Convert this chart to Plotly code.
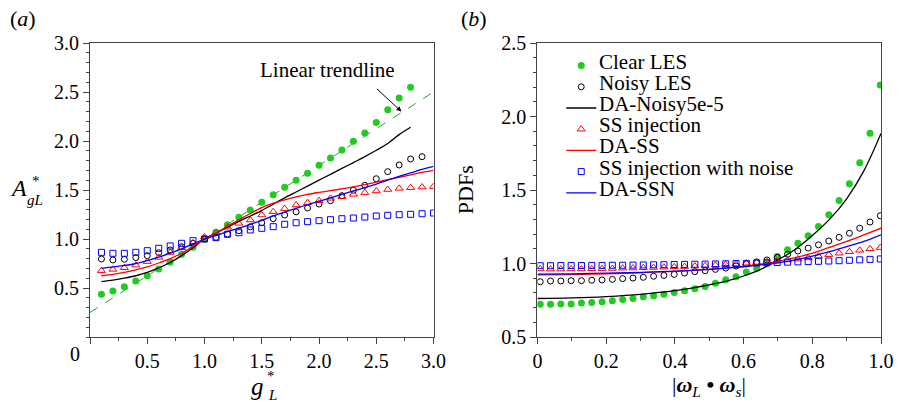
import plotly.graph_objects as go

FONT = "Times New Roman, Liberation Serif, DejaVu Serif, serif"
GREEN = "rgb(30,205,30)"
TREND = "rgb(40,160,40)"
RED = "rgb(255,0,0)"
BLUE = "rgb(0,0,255)"
AXC = "#444444"

# ---------------- panel (a) data ----------------
g_star = [0.1, 0.2, 0.3, 0.4, 0.5, 0.6, 0.7, 0.8, 0.9, 1.0,
          1.1, 1.2, 1.3, 1.4, 1.5, 1.6, 1.7, 1.8, 1.9, 2.0,
          2.1, 2.2, 2.3, 2.4, 2.5, 2.6, 2.7, 2.8, 2.9, 3.0]
a_clear_les = [0.436, 0.469, 0.513, 0.571, 0.626, 0.694, 0.765, 0.844, 0.915, 1.0,
               1.068, 1.146, 1.221, 1.296, 1.374, 1.452, 1.527, 1.599, 1.67, 1.752,
               1.827, 1.908, 1.997, 2.082, 2.19, 2.32, 2.44, 2.548]
a_noisy_les = [0.796, 0.786, 0.793, 0.81, 0.83, 0.86, 0.888, 0.921, 0.956, 1.0,
               1.017, 1.05, 1.085, 1.125, 1.166, 1.207, 1.245, 1.277, 1.316, 1.357,
               1.391, 1.442, 1.497, 1.548, 1.615, 1.687, 1.755, 1.816, 1.84]
a_da_noisy = [0.565, 0.58, 0.60, 0.625, 0.66, 0.705, 0.76, 0.83, 0.91, 1.0,
              1.06, 1.12, 1.18, 1.235, 1.29, 1.355, 1.42, 1.48, 1.54, 1.60,
              1.66, 1.72, 1.78, 1.84, 1.905, 1.975, 2.065, 2.14]
a_ss_inj = [0.677, 0.69, 0.707, 0.733, 0.769, 0.812, 0.862, 0.91, 0.96, 1.02,
            1.065, 1.12, 1.16, 1.194, 1.245, 1.279, 1.31, 1.347, 1.37, 1.391,
            1.415, 1.432, 1.456, 1.473, 1.49, 1.505, 1.517, 1.524, 1.53, 1.535]
a_da_ss = [0.625, 0.64, 0.66, 0.685, 0.715, 0.755, 0.80, 0.855, 0.925, 1.0,
           1.06, 1.13, 1.195, 1.26, 1.32, 1.365, 1.40, 1.43, 1.455, 1.475,
           1.493, 1.512, 1.532, 1.555, 1.58, 1.605, 1.63, 1.655, 1.68, 1.70]
a_ss_noise = [0.864, 0.854, 0.854, 0.864, 0.881, 0.905, 0.929, 0.956, 0.983, 1.0,
              1.014, 1.048, 1.064, 1.092, 1.109, 1.126, 1.15, 1.166, 1.177, 1.187,
              1.197, 1.207, 1.214, 1.224, 1.235, 1.242, 1.248, 1.252, 1.258, 1.265]
a_da_ssn = [0.70, 0.715, 0.73, 0.75, 0.78, 0.815, 0.855, 0.90, 0.95, 1.0,
            1.035, 1.075, 1.11, 1.15, 1.19, 1.235, 1.275, 1.313, 1.35, 1.385,
            1.42, 1.455, 1.49, 1.525, 1.56, 1.60, 1.64, 1.675, 1.71, 1.74]
trend_x = [0.0, 3.0]
trend_y = [0.25, 2.5]

# ---------------- panel (b) data ----------------
w_dot = [0.008, 0.038, 0.068, 0.098, 0.128, 0.158, 0.188, 0.218, 0.248, 0.278,
         0.308, 0.338, 0.368, 0.398, 0.428, 0.458, 0.488, 0.518, 0.548, 0.578,
         0.608, 0.638, 0.668, 0.698, 0.728, 0.758, 0.788, 0.818, 0.848, 0.878,
         0.908, 0.938, 0.968, 0.998]
b_clear_les = [0.723, 0.723, 0.724, 0.725, 0.732, 0.734, 0.739, 0.746, 0.755, 0.762,
               0.773, 0.780, 0.790, 0.803, 0.815, 0.828, 0.844, 0.865, 0.890, 0.910,
               0.942, 0.967, 1.002, 1.047, 1.093, 1.138, 1.188, 1.252, 1.332, 1.428,
               1.542, 1.685, 1.886, 2.214]
b_noisy_les = [0.876, 0.881, 0.881, 0.883, 0.883, 0.886, 0.888, 0.892, 0.897, 0.901,
               0.906, 0.913, 0.919, 0.926, 0.935, 0.944, 0.951, 0.960, 0.969, 0.983,
               0.997, 1.011, 1.024, 1.042, 1.063, 1.085, 1.105, 1.127, 1.153, 1.178,
               1.206, 1.240, 1.282, 1.325]
b_ss_inj = [0.963, 0.962, 0.962, 0.963, 0.963, 0.964, 0.965, 0.966, 0.968, 0.969,
            0.971, 0.973, 0.975, 0.977, 0.979, 0.982, 0.985, 0.989, 0.993, 0.997,
            1.002, 1.007, 1.012, 1.018, 1.024, 1.030, 1.038, 1.050, 1.060, 1.070,
            1.080, 1.090, 1.100, 1.108]
b_ss_noise = [0.985, 0.985, 0.986, 0.986, 0.986, 0.987, 0.987, 0.988, 0.988, 0.989,
              0.990, 0.991, 0.992, 0.993, 0.994, 0.995, 0.996, 0.997, 0.998, 1.000,
              1.001, 1.003, 1.005, 1.007, 1.009, 1.011, 1.013, 1.015, 1.017, 1.019,
              1.022, 1.025, 1.028, 1.031]
w_line = [0.0, 0.1, 0.2, 0.3, 0.4, 0.5, 0.55, 0.6, 0.65, 0.7, 0.75, 0.8, 0.85, 0.9, 0.95, 1.0]
b_da_noisy = [0.762, 0.766, 0.775, 0.79, 0.815, 0.855, 0.88, 0.915, 0.96, 1.025,
              1.095, 1.19, 1.30, 1.44, 1.63, 1.885]
b_da_ss = [0.922, 0.925, 0.93, 0.937, 0.946, 0.96, 0.97, 0.98, 0.995, 1.015,
           1.04, 1.07, 1.11, 1.15, 1.195, 1.24]
b_da_ssn = [0.928, 0.93, 0.935, 0.94, 0.948, 0.96, 0.968, 0.978, 0.99, 1.005,
            1.025, 1.05, 1.08, 1.115, 1.15, 1.195]

legend_names = ["Clear LES", "Noisy LES", "DA-Noisy5e-5", "SS injection",
                "DA-SS", "SS injection with noise", "DA-SSN"]

fig = go.Figure()

# panel (a)
fig.add_trace(go.Scatter(x=trend_x, y=trend_y, mode="lines", showlegend=False,
                         line=dict(color=TREND, width=1, dash="dash"), xaxis="x", yaxis="y"))
fig.add_trace(go.Scatter(x=g_star, y=a_clear_les, mode="markers", showlegend=False,
                         marker=dict(symbol="circle", size=7, color=GREEN), xaxis="x", yaxis="y"))
fig.add_trace(go.Scatter(x=g_star, y=a_noisy_les, mode="markers", showlegend=False,
                         marker=dict(symbol="circle-open", size=6, color="black", line=dict(width=1)),
                         xaxis="x", yaxis="y"))
fig.add_trace(go.Scatter(x=g_star, y=a_ss_inj, mode="markers", showlegend=False,
                         marker=dict(symbol="triangle-up-open", size=7, color=RED, line=dict(width=1)),
                         xaxis="x", yaxis="y"))
fig.add_trace(go.Scatter(x=g_star, y=a_ss_noise, mode="markers", showlegend=False,
                         marker=dict(symbol="square-open", size=6, color=BLUE, line=dict(width=1)),
                         xaxis="x", yaxis="y"))
fig.add_trace(go.Scatter(x=g_star, y=a_da_noisy, mode="lines", showlegend=False,
                         line=dict(color="black", width=1.3, shape="spline", smoothing=0.8),
                         xaxis="x", yaxis="y"))
fig.add_trace(go.Scatter(x=g_star, y=a_da_ss, mode="lines", showlegend=False,
                         line=dict(color=RED, width=1.3, shape="spline", smoothing=0.8),
                         xaxis="x", yaxis="y"))
fig.add_trace(go.Scatter(x=g_star, y=a_da_ssn, mode="lines", showlegend=False,
                         line=dict(color=BLUE, width=1.3, shape="spline", smoothing=0.8),
                         xaxis="x", yaxis="y"))

# panel (b) -- legend symbols come from these traces; legend texts are annotations
fig.add_trace(go.Scatter(x=w_dot, y=b_clear_les, mode="markers", name="",
                         marker=dict(symbol="circle", size=7, color=GREEN), xaxis="x2", yaxis="y2",
                         showlegend=True))
fig.add_trace(go.Scatter(x=w_dot, y=b_noisy_les, mode="markers", name="",
                         marker=dict(symbol="circle-open", size=6, color="black", line=dict(width=1)),
                         xaxis="x2", yaxis="y2", showlegend=True))
fig.add_trace(go.Scatter(x=w_line, y=b_da_noisy, mode="lines", name="",
                         line=dict(color="black", width=1.3, shape="spline"), xaxis="x2", yaxis="y2",
                         showlegend=True))
fig.add_trace(go.Scatter(x=w_dot, y=b_ss_inj, mode="markers", name="",
                         marker=dict(symbol="triangle-up-open", size=7, color=RED, line=dict(width=1)),
                         xaxis="x2", yaxis="y2", showlegend=True))
fig.add_trace(go.Scatter(x=w_line, y=b_da_ss, mode="lines", name="",
                         line=dict(color=RED, width=1.3, shape="spline"), xaxis="x2", yaxis="y2",
                         showlegend=True))
fig.add_trace(go.Scatter(x=w_dot, y=b_ss_noise, mode="markers", name="",
                         marker=dict(symbol="square-open", size=6, color=BLUE, line=dict(width=1)),
                         xaxis="x2", yaxis="y2", showlegend=True))
fig.add_trace(go.Scatter(x=w_line, y=b_da_ssn, mode="lines", name="",
                         line=dict(color=BLUE, width=1.3, shape="spline"), xaxis="x2", yaxis="y2",
                         showlegend=True))

W, H = 906, 406
L, R, T, B = 90, 17, 43, 69
pw = W - L - R
ph = H - T - B


def px2paper_x(px):
    return (px - L) / pw


def px2paper_y(py):
    return (H - B - py) / ph


common = dict(showline=True, linecolor=AXC, linewidth=1.2, mirror=True, ticks="outside",
              ticklen=6, tickwidth=1, tickcolor=AXC, showgrid=False, zeroline=False,
              tickfont=dict(family=FONT, size=20, color="black"))

LEG_FS = 14
fig.update_layout(
    width=W, height=H, margin=dict(l=L, r=R, t=T, b=B),
    paper_bgcolor="white", plot_bgcolor="white",
    font=dict(family=FONT, color="black"),
    xaxis=dict(domain=[0, px2paper_x(437)], range=[0, 3.0],
               tickvals=[0, 0.5, 1.0, 1.5, 2.0, 2.5, 3.0],
               ticktext=["", "0.5", "1.0", "1.5", "2.0", "2.5", "3.0"],
               minor=dict(ticks="outside", ticklen=3, dtick=0.25, tick0=0, tickcolor=AXC),
               anchor="y", **common),
    yaxis=dict(domain=[0, 1], range=[0, 3.0],
               tickvals=[0.5, 1.0, 1.5, 2.0, 2.5, 3.0],
               ticktext=["0.5", "1.0", "1.5", "2.0", "2.5", "3.0"],
               minor=dict(ticks="outside", ticklen=3, dtick=0.1, tick0=0, tickcolor=AXC),
               anchor="x", **common),
    xaxis2=dict(domain=[px2paper_x(542), 1], range=[0, 1.0],
                tickvals=[0, 0.2, 0.4, 0.6, 0.8, 1.0],
                ticktext=["0", "0.2", "0.4", "0.6", "0.8", "1.0"],
                minor=dict(ticks="outside", ticklen=3, dtick=0.1, tick0=0, tickcolor=AXC),
                anchor="y2", **common),
    yaxis2=dict(domain=[0, 1], range=[0.5, 2.5],
                tickvals=[0.5, 1.0, 1.5, 2.0, 2.5],
                ticktext=["0.5", "1.0", "1.5", "2.0", "2.5"],
                minor=dict(ticks="outside", ticklen=3, dtick=0.1, tick0=0.5, tickcolor=AXC),
                anchor="x2", **common),
    legend=dict(x=px2paper_x(566), y=px2paper_y(50), xanchor="left", yanchor="top",
                bgcolor="rgba(0,0,0,0)", font=dict(family=FONT, size=LEG_FS, color="black"),
                tracegroupgap=0, itemwidth=30),
)

ann = []


def txt(x, y, s, size, **kw):
    d = dict(xref="paper", yref="paper", x=px2paper_x(x), y=px2paper_y(y), text=s,
             showarrow=False, font=dict(family=FONT, size=size, color="black"),
             xanchor="center", yanchor="middle")
    d.update(kw)
    ann.append(d)


# panel labels
txt(22, 18, "(<i>a</i>)", 22)
txt(478, 18, "(<i>b</i>)", 22)
# corner zero of panel (a)
txt(75, 354, "0", 20)
# axis titles panel (a)
txt(259, 386, "<i>g</i>", 25)
txt(273, 376, "*", 15)
txt(274, 395, "<i>L</i>", 15)
txt(18, 188, "<i>A</i>", 24)
txt(35, 181, "*", 15)
txt(34, 200, "<i>gL</i>", 15)
# axis titles panel (b)
txt(715, 386, "|<b><i>ω</i></b><sub><i>L</i></sub> <b>•</b> <b><i>ω</i></b><sub><i>s</i></sub>|", 22)
txt(469, 190, "PDFs", 22, textangle=-90)
# legend texts
row0, drow = 62, 21.1
for k, nm in enumerate(legend_names):
    txt(602, row0 + k * drow, nm, 21, xanchor="left")
# trendline label + arrow
txt(330, 70, "Linear trendline", 21)
ann.append(dict(xref="x", yref="y", x=2.72, y=2.30, ax=-26, ay=-24, axref="pixel", ayref="pixel",
                showarrow=True, arrowhead=2, arrowsize=1, arrowwidth=1, arrowcolor="black", text=""))

fig.update_layout(annotations=ann)

fig.write_html("out.html")
